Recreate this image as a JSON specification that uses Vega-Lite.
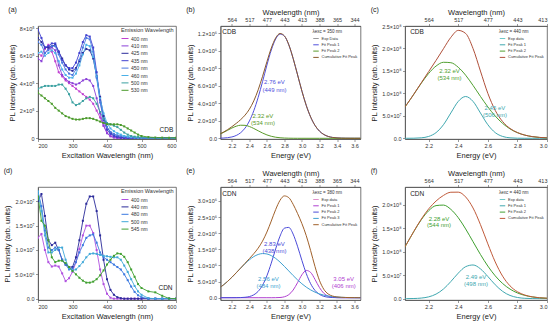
{
"$schema": "https://vega.github.io/schema/vega-lite/v6.json",
"autosize": {"type": "pad"},
"padding": {"left": 3, "top": 5, "right": 2, "bottom": 2},
"config": {
  "font": "Liberation Sans",
  "view": {"stroke": "#555555", "strokeWidth": 0.8},
  "axis": {"grid": false, "labelOverlap": false, "labelFontSize": 5.5, "titleFontSize": 7.5, "titleFontWeight": "normal", "tickSize": 2.5, "tickWidth": 0.6, "domainWidth": 0.8, "domainColor": "#555555", "tickColor": "#555555", "labelColor": "#333333", "titleColor": "#222222", "labelPadding": 1.5, "titlePadding": 3},
  "title": {"fontSize": 7, "fontWeight": "normal", "anchor": "start", "frame": "bounds", "color": "#222222", "offset": 0},
  "legend": {"titleFontWeight": "normal", "titleColor": "#333333", "labelColor": "#333333", "symbolType": "stroke", "symbolStrokeWidth": 1},
  "text": {"font": "Liberation Sans"}
},
"columns": 3,
"spacing": {"row": 48, "column": 44.5},
"bounds": "flush",
"align": "each",
"resolve": {"scale": {"color": "independent"}, "legend": {"color": "independent"}},
"concat": [
{
  "width": 138, "height": 113,
  "title": {"text": "(a)", "dy": -9},
  "encoding": {
    "x": {"field": "w", "type": "quantitative", "scale": {"domain": [200, 600], "nice": false}, "axis": {"values": [200, 300, 400, 500, 600], "labelOverlap": false, "title": "Excitation Wavelength (nm)"}},
    "y": {"field": "v", "type": "quantitative", "scale": {"domain": [-7000, 817000], "nice": false}, "axis": {"values": [0, 200000, 400000, 600000, 800000], "labelOverlap": false, "labelExpr": "datum.value == 0 ? '0' : format(datum.value / 100000, '.0f') + '×10⁵'", "title": "PL Intensity (arb. units)"}}
  },
  "layer": [
    {
      "data": {"values": [
{"w":200,"s":"400 nm","v":6.2e5},{"w":210,"s":"400 nm","v":6.0e5},{"w":220,"s":"400 nm","v":6.5e5},{"w":230,"s":"400 nm","v":6.8e5},{"w":240,"s":"400 nm","v":6.3e5},{"w":250,"s":"400 nm","v":5.6e5},{"w":260,"s":"400 nm","v":4.8e5},{"w":270,"s":"400 nm","v":4.5e5},{"w":280,"s":"400 nm","v":4.2e5},{"w":290,"s":"400 nm","v":4.0e5},{"w":300,"s":"400 nm","v":3.8e5},{"w":310,"s":"400 nm","v":3.6e5},{"w":320,"s":"400 nm","v":3.4e5},{"w":330,"s":"400 nm","v":3.2e5},{"w":340,"s":"400 nm","v":3.0e5},{"w":350,"s":"400 nm","v":2.8e5},{"w":360,"s":"400 nm","v":2.5e5},{"w":370,"s":"400 nm","v":2.0e5},{"w":380,"s":"400 nm","v":1.5e5},{"w":390,"s":"400 nm","v":0.9e5},{"w":400,"s":"400 nm","v":0.4e5},{"w":410,"s":"400 nm","v":0.15e5},{"w":420,"s":"400 nm","v":0.05e5},{"w":430,"s":"400 nm","v":0},{"w":440,"s":"400 nm","v":0},{"w":450,"s":"400 nm","v":0},{"w":460,"s":"400 nm","v":0},{"w":470,"s":"400 nm","v":0},{"w":480,"s":"400 nm","v":0},{"w":490,"s":"400 nm","v":0},{"w":500,"s":"400 nm","v":0},{"w":520,"s":"400 nm","v":0},{"w":540,"s":"400 nm","v":0},{"w":560,"s":"400 nm","v":0},{"w":580,"s":"400 nm","v":0},{"w":600,"s":"400 nm","v":0},
{"w":200,"s":"410 nm","v":5.8e5},{"w":210,"s":"410 nm","v":5.6e5},{"w":220,"s":"410 nm","v":6.2e5},{"w":230,"s":"410 nm","v":6.5e5},{"w":240,"s":"410 nm","v":6.6e5},{"w":250,"s":"410 nm","v":6.4e5},{"w":260,"s":"410 nm","v":5.3e5},{"w":270,"s":"410 nm","v":4.6e5},{"w":280,"s":"410 nm","v":4.3e5},{"w":290,"s":"410 nm","v":4.1e5},{"w":300,"s":"410 nm","v":4.0e5},{"w":310,"s":"410 nm","v":3.9e5},{"w":320,"s":"410 nm","v":4.0e5},{"w":330,"s":"410 nm","v":4.2e5},{"w":340,"s":"410 nm","v":4.3e5},{"w":350,"s":"410 nm","v":4.2e5},{"w":360,"s":"410 nm","v":3.8e5},{"w":370,"s":"410 nm","v":2.9e5},{"w":380,"s":"410 nm","v":1.8e5},{"w":390,"s":"410 nm","v":0.9e5},{"w":400,"s":"410 nm","v":0.35e5},{"w":410,"s":"410 nm","v":0.12e5},{"w":420,"s":"410 nm","v":0.04e5},{"w":430,"s":"410 nm","v":0},{"w":440,"s":"410 nm","v":0},{"w":450,"s":"410 nm","v":0},{"w":460,"s":"410 nm","v":0},{"w":470,"s":"410 nm","v":0},{"w":480,"s":"410 nm","v":0},{"w":490,"s":"410 nm","v":0},{"w":500,"s":"410 nm","v":0},{"w":520,"s":"410 nm","v":0},{"w":540,"s":"410 nm","v":0},{"w":560,"s":"410 nm","v":0},{"w":580,"s":"410 nm","v":0},{"w":600,"s":"410 nm","v":0},
{"w":200,"s":"425 nm","v":7.3e5},{"w":210,"s":"425 nm","v":7.0e5},{"w":220,"s":"425 nm","v":6.6e5},{"w":230,"s":"425 nm","v":6.6e5},{"w":240,"s":"425 nm","v":6.7e5},{"w":250,"s":"425 nm","v":6.8e5},{"w":260,"s":"425 nm","v":6.3e5},{"w":270,"s":"425 nm","v":5.8e5},{"w":280,"s":"425 nm","v":5.3e5},{"w":290,"s":"425 nm","v":5.0e5},{"w":300,"s":"425 nm","v":4.9e5},{"w":310,"s":"425 nm","v":5.1e5},{"w":320,"s":"425 nm","v":5.6e5},{"w":330,"s":"425 nm","v":6.2e5},{"w":340,"s":"425 nm","v":6.5e5},{"w":350,"s":"425 nm","v":6.4e5},{"w":360,"s":"425 nm","v":5.8e5},{"w":370,"s":"425 nm","v":4.5e5},{"w":380,"s":"425 nm","v":3.0e5},{"w":390,"s":"425 nm","v":1.6e5},{"w":400,"s":"425 nm","v":0.8e5},{"w":410,"s":"425 nm","v":0.4e5},{"w":420,"s":"425 nm","v":0.2e5},{"w":430,"s":"425 nm","v":0.1e5},{"w":440,"s":"425 nm","v":0.05e5},{"w":450,"s":"425 nm","v":0.03e5},{"w":460,"s":"425 nm","v":0.02e5},{"w":470,"s":"425 nm","v":0.01e5},{"w":480,"s":"425 nm","v":0},{"w":490,"s":"425 nm","v":0},{"w":500,"s":"425 nm","v":0},{"w":520,"s":"425 nm","v":0},{"w":540,"s":"425 nm","v":0},{"w":560,"s":"425 nm","v":0},{"w":580,"s":"425 nm","v":0},{"w":600,"s":"425 nm","v":0},
{"w":200,"s":"435 nm","v":7.9e5},{"w":210,"s":"435 nm","v":7.3e5},{"w":220,"s":"435 nm","v":6.6e5},{"w":230,"s":"435 nm","v":6.7e5},{"w":240,"s":"435 nm","v":6.9e5},{"w":250,"s":"435 nm","v":6.9e5},{"w":260,"s":"435 nm","v":6.3e5},{"w":270,"s":"435 nm","v":5.7e5},{"w":280,"s":"435 nm","v":5.3e5},{"w":290,"s":"435 nm","v":5.1e5},{"w":300,"s":"435 nm","v":5.1e5},{"w":310,"s":"435 nm","v":5.5e5},{"w":320,"s":"435 nm","v":6.2e5},{"w":330,"s":"435 nm","v":7.0e5},{"w":340,"s":"435 nm","v":7.5e5},{"w":350,"s":"435 nm","v":7.4e5},{"w":360,"s":"435 nm","v":6.6e5},{"w":370,"s":"435 nm","v":4.8e5},{"w":380,"s":"435 nm","v":2.8e5},{"w":390,"s":"435 nm","v":1.3e5},{"w":400,"s":"435 nm","v":0.6e5},{"w":410,"s":"435 nm","v":0.3e5},{"w":420,"s":"435 nm","v":0.15e5},{"w":430,"s":"435 nm","v":0.08e5},{"w":440,"s":"435 nm","v":0.04e5},{"w":450,"s":"435 nm","v":0.02e5},{"w":460,"s":"435 nm","v":0.01e5},{"w":470,"s":"435 nm","v":0},{"w":480,"s":"435 nm","v":0},{"w":490,"s":"435 nm","v":0},{"w":500,"s":"435 nm","v":0},{"w":520,"s":"435 nm","v":0},{"w":540,"s":"435 nm","v":0},{"w":560,"s":"435 nm","v":0},{"w":580,"s":"435 nm","v":0},{"w":600,"s":"435 nm","v":0},
{"w":200,"s":"450 nm","v":7.0e5},{"w":210,"s":"450 nm","v":6.8e5},{"w":220,"s":"450 nm","v":6.2e5},{"w":230,"s":"450 nm","v":6.4e5},{"w":240,"s":"450 nm","v":6.7e5},{"w":250,"s":"450 nm","v":6.7e5},{"w":260,"s":"450 nm","v":6.1e5},{"w":270,"s":"450 nm","v":5.5e5},{"w":280,"s":"450 nm","v":5.0e5},{"w":290,"s":"450 nm","v":4.7e5},{"w":300,"s":"450 nm","v":4.6e5},{"w":310,"s":"450 nm","v":5.0e5},{"w":320,"s":"450 nm","v":5.7e5},{"w":330,"s":"450 nm","v":6.6e5},{"w":340,"s":"450 nm","v":7.3e5},{"w":350,"s":"450 nm","v":7.2e5},{"w":360,"s":"450 nm","v":6.3e5},{"w":370,"s":"450 nm","v":4.4e5},{"w":380,"s":"450 nm","v":2.6e5},{"w":390,"s":"450 nm","v":1.4e5},{"w":400,"s":"450 nm","v":0.8e5},{"w":410,"s":"450 nm","v":0.45e5},{"w":420,"s":"450 nm","v":0.3e5},{"w":430,"s":"450 nm","v":0.2e5},{"w":440,"s":"450 nm","v":0.15e5},{"w":450,"s":"450 nm","v":0.1e5},{"w":460,"s":"450 nm","v":0.06e5},{"w":470,"s":"450 nm","v":0.04e5},{"w":480,"s":"450 nm","v":0.02e5},{"w":490,"s":"450 nm","v":0.01e5},{"w":500,"s":"450 nm","v":0},{"w":520,"s":"450 nm","v":0},{"w":540,"s":"450 nm","v":0},{"w":560,"s":"450 nm","v":0},{"w":580,"s":"450 nm","v":0},{"w":600,"s":"450 nm","v":0},
{"w":200,"s":"460 nm","v":6.2e5},{"w":210,"s":"460 nm","v":6.3e5},{"w":220,"s":"460 nm","v":6.0e5},{"w":230,"s":"460 nm","v":6.2e5},{"w":240,"s":"460 nm","v":6.4e5},{"w":250,"s":"460 nm","v":6.2e5},{"w":260,"s":"460 nm","v":5.6e5},{"w":270,"s":"460 nm","v":5.0e5},{"w":280,"s":"460 nm","v":4.6e5},{"w":290,"s":"460 nm","v":4.4e5},{"w":300,"s":"460 nm","v":4.4e5},{"w":310,"s":"460 nm","v":4.7e5},{"w":320,"s":"460 nm","v":5.3e5},{"w":330,"s":"460 nm","v":6.1e5},{"w":340,"s":"460 nm","v":6.8e5},{"w":350,"s":"460 nm","v":6.7e5},{"w":360,"s":"460 nm","v":5.9e5},{"w":370,"s":"460 nm","v":4.5e5},{"w":380,"s":"460 nm","v":2.9e5},{"w":390,"s":"460 nm","v":1.8e5},{"w":400,"s":"460 nm","v":1.1e5},{"w":410,"s":"460 nm","v":0.7e5},{"w":420,"s":"460 nm","v":0.5e5},{"w":430,"s":"460 nm","v":0.35e5},{"w":440,"s":"460 nm","v":0.25e5},{"w":450,"s":"460 nm","v":0.15e5},{"w":460,"s":"460 nm","v":0.1e5},{"w":470,"s":"460 nm","v":0.07e5},{"w":480,"s":"460 nm","v":0.04e5},{"w":490,"s":"460 nm","v":0.03e5},{"w":500,"s":"460 nm","v":0.02e5},{"w":520,"s":"460 nm","v":0},{"w":540,"s":"460 nm","v":0},{"w":560,"s":"460 nm","v":0},{"w":580,"s":"460 nm","v":0},{"w":600,"s":"460 nm","v":0},
{"w":200,"s":"500 nm","v":3.6e5},{"w":210,"s":"500 nm","v":3.7e5},{"w":220,"s":"500 nm","v":3.8e5},{"w":230,"s":"500 nm","v":3.8e5},{"w":240,"s":"500 nm","v":3.8e5},{"w":250,"s":"500 nm","v":3.8e5},{"w":260,"s":"500 nm","v":3.9e5},{"w":270,"s":"500 nm","v":3.9e5},{"w":280,"s":"500 nm","v":3.6e5},{"w":290,"s":"500 nm","v":3.2e5},{"w":300,"s":"500 nm","v":2.6e5},{"w":310,"s":"500 nm","v":2.4e5},{"w":320,"s":"500 nm","v":2.5e5},{"w":330,"s":"500 nm","v":2.7e5},{"w":340,"s":"500 nm","v":2.9e5},{"w":350,"s":"500 nm","v":3.0e5},{"w":360,"s":"500 nm","v":2.9e5},{"w":370,"s":"500 nm","v":2.5e5},{"w":380,"s":"500 nm","v":1.9e5},{"w":390,"s":"500 nm","v":1.4e5},{"w":400,"s":"500 nm","v":1.1e5},{"w":410,"s":"500 nm","v":1.0e5},{"w":420,"s":"500 nm","v":0.9e5},{"w":430,"s":"500 nm","v":0.8e5},{"w":440,"s":"500 nm","v":0.6e5},{"w":450,"s":"500 nm","v":0.4e5},{"w":460,"s":"500 nm","v":0.25e5},{"w":470,"s":"500 nm","v":0.15e5},{"w":480,"s":"500 nm","v":0.1e5},{"w":490,"s":"500 nm","v":0.07e5},{"w":500,"s":"500 nm","v":0.05e5},{"w":520,"s":"500 nm","v":0.02e5},{"w":540,"s":"500 nm","v":0},{"w":560,"s":"500 nm","v":0},{"w":580,"s":"500 nm","v":0},{"w":600,"s":"500 nm","v":0},
{"w":200,"s":"530 nm","v":3.3e5},{"w":210,"s":"530 nm","v":3.1e5},{"w":220,"s":"530 nm","v":2.9e5},{"w":230,"s":"530 nm","v":2.7e5},{"w":240,"s":"530 nm","v":2.5e5},{"w":250,"s":"530 nm","v":2.2e5},{"w":260,"s":"530 nm","v":2.0e5},{"w":270,"s":"530 nm","v":1.8e5},{"w":280,"s":"530 nm","v":1.6e5},{"w":290,"s":"530 nm","v":1.5e5},{"w":300,"s":"530 nm","v":1.4e5},{"w":310,"s":"530 nm","v":1.35e5},{"w":320,"s":"530 nm","v":1.35e5},{"w":330,"s":"530 nm","v":1.4e5},{"w":340,"s":"530 nm","v":1.45e5},{"w":350,"s":"530 nm","v":1.45e5},{"w":360,"s":"530 nm","v":1.4e5},{"w":370,"s":"530 nm","v":1.3e5},{"w":380,"s":"530 nm","v":1.2e5},{"w":390,"s":"530 nm","v":1.1e5},{"w":400,"s":"530 nm","v":1.0e5},{"w":410,"s":"530 nm","v":1.0e5},{"w":420,"s":"530 nm","v":1.0e5},{"w":430,"s":"530 nm","v":1.0e5},{"w":440,"s":"530 nm","v":0.95e5},{"w":450,"s":"530 nm","v":0.85e5},{"w":460,"s":"530 nm","v":0.7e5},{"w":470,"s":"530 nm","v":0.55e5},{"w":480,"s":"530 nm","v":0.4e5},{"w":490,"s":"530 nm","v":0.25e5},{"w":500,"s":"530 nm","v":0.15e5},{"w":520,"s":"530 nm","v":0.07e5},{"w":540,"s":"530 nm","v":0.04e5},{"w":560,"s":"530 nm","v":0.03e5},{"w":580,"s":"530 nm","v":0.02e5},{"w":600,"s":"530 nm","v":0.02e5}
      ]},
      "mark": {"type": "line", "strokeWidth": 0.9, "clip": true, "point": {"filled": true, "size": 4, "shape": "square"}},
      "encoding": {
        "color": {"field": "s", "type": "nominal", "scale": {"domain": ["400 nm", "410 nm", "425 nm", "435 nm", "450 nm", "460 nm", "500 nm", "530 nm"], "range": ["#c040d0", "#8a40d8", "#2c2c9c", "#4040d0", "#4a78e0", "#4ab0e8", "#3aa0a0", "#4a9a2a"]}, "legend": {"title": "Emission Wavelength", "orient": "top-right", "offset": 1, "titleFontSize": 5.5, "labelFontSize": 5, "symbolSize": 49, "rowPadding": 0.4, "titlePadding": 1, "padding": 1, "labelOffset": 2}}
      }
    },
    {
      "data": {"values": [{"w": 592, "v": 55000, "t": "CDB"}]},
      "mark": {"type": "text", "fontSize": 6.5, "align": "right", "color": "#222222"},
      "encoding": {"text": {"field": "t"}}
    }
  ]
},
{
  "width": 140, "height": 113,
  "title": {"text": "(b)", "dy": 8},
  "encoding": {
    "y": {"field": "v", "type": "quantitative", "scale": {"domain": [-8000, 1280000], "nice": false}, "axis": {"orient": "left", "values": [0, 200000, 400000, 600000, 800000, 1000000, 1200000], "labelOverlap": false, "labelExpr": "datum.value == 0 ? '0.0' : format(datum.value / pow(10, floor(log(datum.value) / LN10 + 0.000001)), '.1f') + '×10' + ['⁰','¹','²','³','⁴','⁵','⁶','⁷','⁸','⁹'][floor(log(datum.value) / LN10 + 0.000001)]", "title": "PL Intensity (arb. units)"}}
  },
  "layer": [
    {
      "data": {"values": [
{"e":2.05,"s":"Fit Peak 1","v":1110},{"e":2.10,"s":"Fit Peak 1","v":2860},{"e":2.15,"s":"Fit Peak 1","v":6880},{"e":2.20,"s":"Fit Peak 1","v":15470},{"e":2.25,"s":"Fit Peak 1","v":32450},{"e":2.30,"s":"Fit Peak 1","v":63430},{"e":2.35,"s":"Fit Peak 1","v":116000},{"e":2.40,"s":"Fit Peak 1","v":197600},{"e":2.45,"s":"Fit Peak 1","v":314400},{"e":2.50,"s":"Fit Peak 1","v":466600},{"e":2.55,"s":"Fit Peak 1","v":646000},{"e":2.60,"s":"Fit Peak 1","v":834700},{"e":2.65,"s":"Fit Peak 1","v":1006400},{"e":2.70,"s":"Fit Peak 1","v":1132200},{"e":2.75,"s":"Fit Peak 1","v":1188300},{"e":2.80,"s":"Fit Peak 1","v":1163800},{"e":2.85,"s":"Fit Peak 1","v":1063800},{"e":2.90,"s":"Fit Peak 1","v":907000},{"e":2.95,"s":"Fit Peak 1","v":721800},{"e":3.00,"s":"Fit Peak 1","v":535800},{"e":3.05,"s":"Fit Peak 1","v":371300},{"e":3.10,"s":"Fit Peak 1","v":240000},{"e":3.15,"s":"Fit Peak 1","v":144700},{"e":3.20,"s":"Fit Peak 1","v":81500},{"e":3.25,"s":"Fit Peak 1","v":42800},{"e":3.30,"s":"Fit Peak 1","v":20960},{"e":3.35,"s":"Fit Peak 1","v":9590},{"e":3.40,"s":"Fit Peak 1","v":4090},{"e":3.45,"s":"Fit Peak 1","v":1620},{"e":3.50,"s":"Fit Peak 1","v":605},{"e":3.55,"s":"Fit Peak 1","v":210},{"e":3.60,"s":"Fit Peak 1","v":67},{"e":3.65,"s":"Fit Peak 1","v":21},{"e":3.70,"s":"Fit Peak 1","v":6},
{"e":2.05,"s":"Fit Peak 2","v":42500},{"e":2.10,"s":"Fit Peak 2","v":64900},{"e":2.15,"s":"Fit Peak 2","v":91000},{"e":2.20,"s":"Fit Peak 2","v":116900},{"e":2.25,"s":"Fit Peak 2","v":137800},{"e":2.30,"s":"Fit Peak 2","v":149000},{"e":2.35,"s":"Fit Peak 2","v":147700},{"e":2.40,"s":"Fit Peak 2","v":134300},{"e":2.45,"s":"Fit Peak 2","v":112000},{"e":2.50,"s":"Fit Peak 2","v":85600},{"e":2.55,"s":"Fit Peak 2","v":60100},{"e":2.60,"s":"Fit Peak 2","v":38600},{"e":2.65,"s":"Fit Peak 2","v":22800},{"e":2.70,"s":"Fit Peak 2","v":12300},{"e":2.75,"s":"Fit Peak 2","v":6100},{"e":2.80,"s":"Fit Peak 2","v":2790},{"e":2.85,"s":"Fit Peak 2","v":1160},{"e":2.90,"s":"Fit Peak 2","v":450},{"e":2.95,"s":"Fit Peak 2","v":160},{"e":3.00,"s":"Fit Peak 2","v":50},{"e":3.20,"s":"Fit Peak 2","v":0},{"e":3.45,"s":"Fit Peak 2","v":0},{"e":3.70,"s":"Fit Peak 2","v":0},
{"e":2.05,"s":"Cumulative Fit Peak","v":43610},{"e":2.10,"s":"Cumulative Fit Peak","v":67760},{"e":2.15,"s":"Cumulative Fit Peak","v":97880},{"e":2.20,"s":"Cumulative Fit Peak","v":132370},{"e":2.25,"s":"Cumulative Fit Peak","v":170250},{"e":2.30,"s":"Cumulative Fit Peak","v":212430},{"e":2.35,"s":"Cumulative Fit Peak","v":263700},{"e":2.40,"s":"Cumulative Fit Peak","v":331900},{"e":2.45,"s":"Cumulative Fit Peak","v":426400},{"e":2.50,"s":"Cumulative Fit Peak","v":552200},{"e":2.55,"s":"Cumulative Fit Peak","v":706100},{"e":2.60,"s":"Cumulative Fit Peak","v":873300},{"e":2.65,"s":"Cumulative Fit Peak","v":1029200},{"e":2.70,"s":"Cumulative Fit Peak","v":1144500},{"e":2.75,"s":"Cumulative Fit Peak","v":1194400},{"e":2.80,"s":"Cumulative Fit Peak","v":1166600},{"e":2.85,"s":"Cumulative Fit Peak","v":1065000},{"e":2.90,"s":"Cumulative Fit Peak","v":907500},{"e":2.95,"s":"Cumulative Fit Peak","v":722000},{"e":3.00,"s":"Cumulative Fit Peak","v":535900},{"e":3.05,"s":"Cumulative Fit Peak","v":371300},{"e":3.10,"s":"Cumulative Fit Peak","v":240000},{"e":3.15,"s":"Cumulative Fit Peak","v":144700},{"e":3.20,"s":"Cumulative Fit Peak","v":81500},{"e":3.25,"s":"Cumulative Fit Peak","v":42800},{"e":3.30,"s":"Cumulative Fit Peak","v":20960},{"e":3.35,"s":"Cumulative Fit Peak","v":9590},{"e":3.40,"s":"Cumulative Fit Peak","v":4090},{"e":3.45,"s":"Cumulative Fit Peak","v":1620},{"e":3.50,"s":"Cumulative Fit Peak","v":605},{"e":3.55,"s":"Cumulative Fit Peak","v":210},{"e":3.60,"s":"Cumulative Fit Peak","v":67},{"e":3.65,"s":"Cumulative Fit Peak","v":21},{"e":3.70,"s":"Cumulative Fit Peak","v":6}
      ]},
      "mark": {"type": "line", "strokeWidth": 1, "clip": true, "interpolate": "monotone"},
      "encoding": {
        "x": {"field": "e", "type": "quantitative", "scale": {"domain": [2.07, 3.668], "nice": false, "zero": false}, "axis": {"orient": "bottom", "values": [2.2, 2.4, 2.6, 2.8, 3.0, 3.2, 3.4, 3.6], "labelOverlap": false, "format": ".1f", "title": "Energy (eV)"}},
        "color": {"field": "s", "type": "nominal", "scale": {"domain": ["Exp Data", "Fit Peak 1", "Fit Peak 2", "Cumulative Fit Peak"], "range": ["#9a9a9a", "#5050dc", "#5a9a2a", "#8b5a2b"]}, "legend": {"title": "λexc = 350 nm", "orient": "top-right", "offset": 2, "titleFontSize": 4.5, "labelFontSize": 4, "symbolSize": 30, "rowPadding": 0.3, "titlePadding": 1.5, "padding": 1, "labelOffset": 2}}
      }
    },
    {
      "data": {"values": [
{"e":2.686,"v":638000,"t":"2.76 eV","s":"Fit Peak 1"},{"e":2.686,"v":554000,"t":"(449 nm)","s":"Fit Peak 1"},{"e":2.554,"v":258000,"t":"2.32 eV","s":"Fit Peak 2"},{"e":2.554,"v":174000,"t":"(534 nm)","s":"Fit Peak 2"}
      ]},
      "mark": {"type": "text", "fontSize": 6},
      "encoding": {
        "x": {"field": "e", "type": "quantitative", "scale": {"domain": [2.07, 3.668], "nice": false, "zero": false}, "axis": {"orient": "top", "values": [2.2, 2.4, 2.6, 2.8, 3.0, 3.2, 3.4, 3.6], "labelOverlap": false, "labelExpr": "format(1240 / datum.value, '.0f')", "title": "Wavelength (nm)", "titlePadding": 0.5}},
        "text": {"field": "t"},
        "color": {"field": "s", "type": "nominal", "legend": null}
      }
    },
    {
      "data": {"values": [{"e": 2.09, "v": 1210000, "t": "CDB"}]},
      "mark": {"type": "text", "fontSize": 6.5, "align": "left", "color": "#222222"},
      "encoding": {
        "x": {"field": "e", "type": "quantitative", "scale": {"domain": [2.07, 3.668], "nice": false, "zero": false}, "axis": null},
        "text": {"field": "t"}
      }
    }
  ],
  "resolve": {"axis": {"x": "independent"}}
},
{
  "width": 142, "height": 113,
  "title": {"text": "(c)", "dy": 8},
  "encoding": {
    "y": {"field": "v", "type": "quantitative", "scale": {"domain": [-1.6e6, 2.5e8], "nice": false}, "axis": {"orient": "left", "values": [0, 5e7, 1e8, 1.5e8, 2e8, 2.5e8], "labelOverlap": false, "labelExpr": "datum.value == 0 ? '0.0' : format(datum.value / pow(10, floor(log(datum.value) / LN10 + 0.000001)), '.1f') + '×10' + ['⁰','¹','²','³','⁴','⁵','⁶','⁷','⁸','⁹'][floor(log(datum.value) / LN10 + 0.000001)]", "title": "PL Intensity (arb. units)"}}
  },
  "layer": [
    {
      "data": {"values": [
{"e":2.00,"s":"Fit Peak 1","v":0},{"e":2.05,"s":"Fit Peak 1","v":31000},{"e":2.10,"s":"Fit Peak 1","v":204000},{"e":2.15,"s":"Fit Peak 1","v":1.03e6},{"e":2.20,"s":"Fit Peak 1","v":4.08e6},{"e":2.25,"s":"Fit Peak 1","v":1.259e7},{"e":2.30,"s":"Fit Peak 1","v":3.02e7},{"e":2.35,"s":"Fit Peak 1","v":5.64e7},{"e":2.40,"s":"Fit Peak 1","v":8.21e7},{"e":2.45,"s":"Fit Peak 1","v":9.30e7},{"e":2.50,"s":"Fit Peak 1","v":8.21e7},{"e":2.55,"s":"Fit Peak 1","v":5.64e7},{"e":2.60,"s":"Fit Peak 1","v":3.02e7},{"e":2.65,"s":"Fit Peak 1","v":1.259e7},{"e":2.70,"s":"Fit Peak 1","v":4.08e6},{"e":2.75,"s":"Fit Peak 1","v":1.03e6},{"e":2.80,"s":"Fit Peak 1","v":204000},{"e":2.85,"s":"Fit Peak 1","v":31000},{"e":2.90,"s":"Fit Peak 1","v":3500},{"e":2.95,"s":"Fit Peak 1","v":0},{"e":3.00,"s":"Fit Peak 1","v":0},
{"e":2.00,"s":"Fit Peak 2","v":5.32e7},{"e":2.05,"s":"Fit Peak 2","v":7.44e7},{"e":2.10,"s":"Fit Peak 2","v":9.82e7},{"e":2.15,"s":"Fit Peak 2","v":1.225e8},{"e":2.20,"s":"Fit Peak 2","v":1.444e8},{"e":2.25,"s":"Fit Peak 2","v":1.608e8},{"e":2.30,"s":"Fit Peak 2","v":1.692e8},{"e":2.35,"s":"Fit Peak 2","v":1.683e8},{"e":2.40,"s":"Fit Peak 2","v":1.581e8},{"e":2.45,"s":"Fit Peak 2","v":1.404e8},{"e":2.50,"s":"Fit Peak 2","v":1.177e8},{"e":2.55,"s":"Fit Peak 2","v":9.33e7},{"e":2.60,"s":"Fit Peak 2","v":6.99e7},{"e":2.65,"s":"Fit Peak 2","v":4.95e7},{"e":2.70,"s":"Fit Peak 2","v":3.31e7},{"e":2.75,"s":"Fit Peak 2","v":2.09e7},{"e":2.80,"s":"Fit Peak 2","v":1.25e7},{"e":2.85,"s":"Fit Peak 2","v":7.04e6},{"e":2.90,"s":"Fit Peak 2","v":3.75e6},{"e":2.95,"s":"Fit Peak 2","v":1.89e6},{"e":3.00,"s":"Fit Peak 2","v":9.0e5},
{"e":2.00,"s":"Cumulative Fit Peak","v":5.32e7},{"e":2.05,"s":"Cumulative Fit Peak","v":7.443e7},{"e":2.10,"s":"Cumulative Fit Peak","v":9.84e7},{"e":2.15,"s":"Cumulative Fit Peak","v":1.235e8},{"e":2.20,"s":"Cumulative Fit Peak","v":1.485e8},{"e":2.25,"s":"Cumulative Fit Peak","v":1.734e8},{"e":2.30,"s":"Cumulative Fit Peak","v":1.994e8},{"e":2.35,"s":"Cumulative Fit Peak","v":2.247e8},{"e":2.40,"s":"Cumulative Fit Peak","v":2.402e8},{"e":2.45,"s":"Cumulative Fit Peak","v":2.334e8},{"e":2.50,"s":"Cumulative Fit Peak","v":1.998e8},{"e":2.55,"s":"Cumulative Fit Peak","v":1.497e8},{"e":2.60,"s":"Cumulative Fit Peak","v":1.001e8},{"e":2.65,"s":"Cumulative Fit Peak","v":6.21e7},{"e":2.70,"s":"Cumulative Fit Peak","v":3.72e7},{"e":2.75,"s":"Cumulative Fit Peak","v":2.19e7},{"e":2.80,"s":"Cumulative Fit Peak","v":1.27e7},{"e":2.85,"s":"Cumulative Fit Peak","v":7.07e6},{"e":2.90,"s":"Cumulative Fit Peak","v":3.75e6},{"e":2.95,"s":"Cumulative Fit Peak","v":1.89e6},{"e":3.00,"s":"Cumulative Fit Peak","v":9.0e5}
      ]},
      "mark": {"type": "line", "strokeWidth": 1, "clip": true, "interpolate": "monotone"},
      "encoding": {
        "x": {"field": "e", "type": "quantitative", "scale": {"domain": [2.04, 3.0], "nice": false, "zero": false}, "axis": {"orient": "bottom", "values": [2.2, 2.4, 2.6, 2.8, 3.0], "labelOverlap": false, "format": ".1f", "title": "Energy (eV)"}},
        "color": {"field": "s", "type": "nominal", "scale": {"domain": ["Exp data", "Fit Peak 1", "Fit Peak 2", "Cumulative Fit Peak"], "range": ["#70c8c8", "#40a8b0", "#50a030", "#b0503a"]}, "legend": {"title": "λexc = 440 nm", "orient": "top-right", "offset": 2, "titleFontSize": 4.5, "labelFontSize": 4, "symbolSize": 30, "rowPadding": 0.3, "titlePadding": 1.5, "padding": 1, "labelOffset": 2}}
      }
    },
    {
      "data": {"values": [
{"e":2.341,"v":1.505e8,"t":"2.32 eV","s":"Fit Peak 2"},{"e":2.341,"v":1.342e8,"t":"(534 nm)","s":"Fit Peak 2"},{"e":2.648,"v":6.74e7,"t":"2.45 eV","s":"Fit Peak 1"},{"e":2.648,"v":5.19e7,"t":"(506 nm)","s":"Fit Peak 1"}
      ]},
      "mark": {"type": "text", "fontSize": 6},
      "encoding": {
        "x": {"field": "e", "type": "quantitative", "scale": {"domain": [2.04, 3.0], "nice": false, "zero": false}, "axis": {"orient": "top", "values": [2.2, 2.4, 2.6, 2.8, 3.0], "labelOverlap": false, "labelExpr": "format(1240 / datum.value, '.0f')", "title": "Wavelength (nm)", "titlePadding": 0.5}},
        "text": {"field": "t"},
        "color": {"field": "s", "type": "nominal", "legend": null}
      }
    },
    {
      "data": {"values": [{"e": 2.075, "v": 2.36e8, "t": "CDB"}]},
      "mark": {"type": "text", "fontSize": 6.5, "align": "left", "color": "#222222"},
      "encoding": {
        "x": {"field": "e", "type": "quantitative", "scale": {"domain": [2.04, 3.0], "nice": false, "zero": false}, "axis": null},
        "text": {"field": "t"}
      }
    }
  ],
  "resolve": {"axis": {"x": "independent"}}
},
{
  "width": 138, "height": 113,
  "title": {"text": "(d)", "dy": -9},
  "encoding": {
    "x": {"field": "w", "type": "quantitative", "scale": {"domain": [200, 600], "nice": false}, "axis": {"values": [200, 300, 400, 500, 600], "labelOverlap": false, "title": "Excitation Wavelength (nm)"}},
    "y": {"field": "v", "type": "quantitative", "scale": {"domain": [-270000, 22940000], "nice": false}, "axis": {"values": [0, 5e6, 1e7, 1.5e7, 2e7], "labelOverlap": false, "labelExpr": "datum.value == 0 ? '0.0' : format(datum.value / pow(10, floor(log(datum.value) / LN10 + 0.000001)), '.1f') + '×10' + ['⁰','¹','²','³','⁴','⁵','⁶','⁷','⁸','⁹'][floor(log(datum.value) / LN10 + 0.000001)]", "title": "PL Intensity (arb. units)"}}
  },
  "layer": [
    {
      "data": {"values": [
{"w":200,"s":"400 nm","v":12.5e6},{"w":210,"s":"400 nm","v":13.3e6},{"w":220,"s":"400 nm","v":10e6},{"w":230,"s":"400 nm","v":7.5e6},{"w":240,"s":"400 nm","v":6.6e6},{"w":250,"s":"400 nm","v":6.8e6},{"w":260,"s":"400 nm","v":6.6e6},{"w":270,"s":"400 nm","v":5.2e6},{"w":280,"s":"400 nm","v":3.6e6},{"w":290,"s":"400 nm","v":4.2e6},{"w":300,"s":"400 nm","v":5.5e6},{"w":310,"s":"400 nm","v":7.5e6},{"w":320,"s":"400 nm","v":10.2e6},{"w":330,"s":"400 nm","v":13e6},{"w":340,"s":"400 nm","v":15e6},{"w":350,"s":"400 nm","v":15e6},{"w":360,"s":"400 nm","v":13.5e6},{"w":370,"s":"400 nm","v":10e6},{"w":380,"s":"400 nm","v":6e6},{"w":390,"s":"400 nm","v":3e6},{"w":400,"s":"400 nm","v":1e6},{"w":410,"s":"400 nm","v":0.2e6},{"w":420,"s":"400 nm","v":0},{"w":430,"s":"400 nm","v":0},{"w":440,"s":"400 nm","v":0},{"w":450,"s":"400 nm","v":0},{"w":460,"s":"400 nm","v":0},{"w":470,"s":"400 nm","v":0},{"w":480,"s":"400 nm","v":0},{"w":490,"s":"400 nm","v":0},{"w":500,"s":"400 nm","v":0},{"w":520,"s":"400 nm","v":0},{"w":540,"s":"400 nm","v":0},{"w":560,"s":"400 nm","v":0},{"w":580,"s":"400 nm","v":0},{"w":600,"s":"400 nm","v":0},
{"w":200,"s":"440 nm","v":20e6},{"w":210,"s":"440 nm","v":21.5e6},{"w":220,"s":"440 nm","v":17e6},{"w":230,"s":"440 nm","v":12e6},{"w":240,"s":"440 nm","v":11e6},{"w":250,"s":"440 nm","v":11.5e6},{"w":260,"s":"440 nm","v":10e6},{"w":270,"s":"440 nm","v":8e6},{"w":280,"s":"440 nm","v":7e6},{"w":290,"s":"440 nm","v":6.5e6},{"w":300,"s":"440 nm","v":6.5e6},{"w":310,"s":"440 nm","v":8.5e6},{"w":320,"s":"440 nm","v":12e6},{"w":330,"s":"440 nm","v":16e6},{"w":340,"s":"440 nm","v":19.5e6},{"w":350,"s":"440 nm","v":21e6},{"w":360,"s":"440 nm","v":21e6},{"w":370,"s":"440 nm","v":18e6},{"w":380,"s":"440 nm","v":13e6},{"w":390,"s":"440 nm","v":8e6},{"w":400,"s":"440 nm","v":4e6},{"w":410,"s":"440 nm","v":1.8e6},{"w":420,"s":"440 nm","v":0.8e6},{"w":430,"s":"440 nm","v":0.3e6},{"w":440,"s":"440 nm","v":0.1e6},{"w":450,"s":"440 nm","v":0},{"w":460,"s":"440 nm","v":0},{"w":470,"s":"440 nm","v":0},{"w":480,"s":"440 nm","v":0},{"w":490,"s":"440 nm","v":0},{"w":500,"s":"440 nm","v":0},{"w":520,"s":"440 nm","v":0},{"w":540,"s":"440 nm","v":0},{"w":560,"s":"440 nm","v":0},{"w":580,"s":"440 nm","v":0},{"w":600,"s":"440 nm","v":0},
{"w":200,"s":"480 nm","v":22e6},{"w":210,"s":"480 nm","v":19e6},{"w":220,"s":"480 nm","v":14e6},{"w":230,"s":"480 nm","v":10.5e6},{"w":240,"s":"480 nm","v":10e6},{"w":250,"s":"480 nm","v":10.5e6},{"w":260,"s":"480 nm","v":10e6},{"w":270,"s":"480 nm","v":8e6},{"w":280,"s":"480 nm","v":7e6},{"w":290,"s":"480 nm","v":6e6},{"w":300,"s":"480 nm","v":6.2e6},{"w":310,"s":"480 nm","v":7.5e6},{"w":320,"s":"480 nm","v":9.5e6},{"w":330,"s":"480 nm","v":11e6},{"w":340,"s":"480 nm","v":12.5e6},{"w":350,"s":"480 nm","v":13e6},{"w":360,"s":"480 nm","v":13.2e6},{"w":370,"s":"480 nm","v":11.5e6},{"w":380,"s":"480 nm","v":9.5e6},{"w":390,"s":"480 nm","v":8.5e6},{"w":400,"s":"480 nm","v":8e6},{"w":410,"s":"480 nm","v":7.5e6},{"w":420,"s":"480 nm","v":7e6},{"w":430,"s":"480 nm","v":6.5e6},{"w":440,"s":"480 nm","v":6e6},{"w":450,"s":"480 nm","v":5e6},{"w":460,"s":"480 nm","v":3.8e6},{"w":470,"s":"480 nm","v":2.5e6},{"w":480,"s":"480 nm","v":1.4e6},{"w":490,"s":"480 nm","v":0.7e6},{"w":500,"s":"480 nm","v":0.3e6},{"w":520,"s":"480 nm","v":0},{"w":540,"s":"480 nm","v":0},{"w":560,"s":"480 nm","v":0},{"w":580,"s":"480 nm","v":0},{"w":600,"s":"480 nm","v":0},
{"w":200,"s":"500 nm","v":22e6},{"w":210,"s":"500 nm","v":18e6},{"w":220,"s":"500 nm","v":13e6},{"w":230,"s":"500 nm","v":9.5e6},{"w":240,"s":"500 nm","v":9.5e6},{"w":250,"s":"500 nm","v":10e6},{"w":260,"s":"500 nm","v":10.5e6},{"w":270,"s":"500 nm","v":10.5e6},{"w":280,"s":"500 nm","v":8e6},{"w":290,"s":"500 nm","v":6.2e6},{"w":300,"s":"500 nm","v":5.8e6},{"w":310,"s":"500 nm","v":6e6},{"w":320,"s":"500 nm","v":6.7e6},{"w":330,"s":"500 nm","v":7.5e6},{"w":340,"s":"500 nm","v":8.5e6},{"w":350,"s":"500 nm","v":9.2e6},{"w":360,"s":"500 nm","v":9.3e6},{"w":370,"s":"500 nm","v":9.2e6},{"w":380,"s":"500 nm","v":9e6},{"w":390,"s":"500 nm","v":8.8e6},{"w":400,"s":"500 nm","v":8.7e6},{"w":410,"s":"500 nm","v":8.6e6},{"w":420,"s":"500 nm","v":8.5e6},{"w":430,"s":"500 nm","v":8.5e6},{"w":440,"s":"500 nm","v":8e6},{"w":450,"s":"500 nm","v":6.8e6},{"w":460,"s":"500 nm","v":5.5e6},{"w":470,"s":"500 nm","v":4e6},{"w":480,"s":"500 nm","v":2.6e6},{"w":490,"s":"500 nm","v":1.5e6},{"w":500,"s":"500 nm","v":0.8e6},{"w":520,"s":"500 nm","v":0.1e6},{"w":540,"s":"500 nm","v":0},{"w":560,"s":"500 nm","v":0},{"w":580,"s":"500 nm","v":0},{"w":600,"s":"500 nm","v":0},
{"w":200,"s":"545 nm","v":21e6},{"w":210,"s":"545 nm","v":16e6},{"w":220,"s":"545 nm","v":15e6},{"w":230,"s":"545 nm","v":12e6},{"w":240,"s":"545 nm","v":8.5e6},{"w":250,"s":"545 nm","v":7.5e6},{"w":260,"s":"545 nm","v":7.8e6},{"w":270,"s":"545 nm","v":7.8e6},{"w":280,"s":"545 nm","v":7.3e6},{"w":290,"s":"545 nm","v":6.5e6},{"w":300,"s":"545 nm","v":5.7e6},{"w":310,"s":"545 nm","v":5e6},{"w":320,"s":"545 nm","v":4.3e6},{"w":330,"s":"545 nm","v":3.7e6},{"w":340,"s":"545 nm","v":3.3e6},{"w":350,"s":"545 nm","v":3.3e6},{"w":360,"s":"545 nm","v":3.5e6},{"w":370,"s":"545 nm","v":4e6},{"w":380,"s":"545 nm","v":4.8e6},{"w":390,"s":"545 nm","v":5.8e6},{"w":400,"s":"545 nm","v":7e6},{"w":410,"s":"545 nm","v":8e6},{"w":420,"s":"545 nm","v":8.8e6},{"w":430,"s":"545 nm","v":9.3e6},{"w":440,"s":"545 nm","v":9.2e6},{"w":450,"s":"545 nm","v":8.6e6},{"w":460,"s":"545 nm","v":7.5e6},{"w":470,"s":"545 nm","v":6e6},{"w":480,"s":"545 nm","v":4.5e6},{"w":490,"s":"545 nm","v":3e6},{"w":500,"s":"545 nm","v":2.2e6},{"w":520,"s":"545 nm","v":1.5e6},{"w":540,"s":"545 nm","v":1.3e6},{"w":560,"s":"545 nm","v":0.6e6},{"w":580,"s":"545 nm","v":0.05e6},{"w":600,"s":"545 nm","v":0}
      ]},
      "mark": {"type": "line", "strokeWidth": 0.9, "clip": true, "point": {"filled": true, "size": 4, "shape": "square"}},
      "encoding": {
        "color": {"field": "s", "type": "nominal", "scale": {"domain": ["400 nm", "440 nm", "480 nm", "500 nm", "545 nm"], "range": ["#b050e0", "#2a2a9a", "#3a78e0", "#40a8d8", "#40a030"]}, "legend": {"title": "Emission Wavelength", "orient": "top-right", "offset": 1, "titleFontSize": 5.5, "labelFontSize": 5, "symbolSize": 49, "rowPadding": 0.4, "titlePadding": 1, "padding": 1, "labelOffset": 2}}
      }
    },
    {
      "data": {"values": [{"w": 590, "v": 2.2e6, "t": "CDN"}]},
      "mark": {"type": "text", "fontSize": 6.5, "align": "right", "color": "#222222"},
      "encoding": {"text": {"field": "t"}}
    }
  ]
},
{
  "width": 140, "height": 113,
  "title": {"text": "(e)", "dy": 8},
  "encoding": {
    "y": {"field": "v", "type": "quantitative", "scale": {"domain": [-71000, 3434000], "nice": false}, "axis": {"orient": "left", "values": [0, 500000, 1000000, 1500000, 2000000, 2500000, 3000000], "labelOverlap": false, "labelExpr": "datum.value == 0 ? '0.0' : format(datum.value / pow(10, floor(log(datum.value) / LN10 + 0.000001)), '.1f') + '×10' + ['⁰','¹','²','³','⁴','⁵','⁶','⁷','⁸','⁹'][floor(log(datum.value) / LN10 + 0.000001)]", "title": "PL Intensity (arb. units)"}}
  },
  "layer": [
    {
      "data": {"values": [
{"e":2.05,"s":"Fit Peak 1","v":0},{"e":2.30,"s":"Fit Peak 1","v":0},{"e":2.50,"s":"Fit Peak 1","v":0},{"e":2.60,"s":"Fit Peak 1","v":0},{"e":2.65,"s":"Fit Peak 1","v":190},{"e":2.70,"s":"Fit Peak 1","v":1300},{"e":2.75,"s":"Fit Peak 1","v":7000},{"e":2.80,"s":"Fit Peak 1","v":28900},{"e":2.85,"s":"Fit Peak 1","v":93700},{"e":2.90,"s":"Fit Peak 1","v":236300},{"e":2.95,"s":"Fit Peak 1","v":464100},{"e":3.00,"s":"Fit Peak 1","v":710000},{"e":3.05,"s":"Fit Peak 1","v":845800},{"e":3.10,"s":"Fit Peak 1","v":784600},{"e":3.15,"s":"Fit Peak 1","v":567000},{"e":3.20,"s":"Fit Peak 1","v":319000},{"e":3.25,"s":"Fit Peak 1","v":139800},{"e":3.30,"s":"Fit Peak 1","v":47700},{"e":3.35,"s":"Fit Peak 1","v":12700},{"e":3.40,"s":"Fit Peak 1","v":2600},{"e":3.45,"s":"Fit Peak 1","v":425},{"e":3.50,"s":"Fit Peak 1","v":55},{"e":3.60,"s":"Fit Peak 1","v":0},{"e":3.70,"s":"Fit Peak 1","v":0},
{"e":2.05,"s":"Fit Peak 2","v":0},{"e":2.20,"s":"Fit Peak 2","v":320},{"e":2.25,"s":"Fit Peak 2","v":1250},{"e":2.30,"s":"Fit Peak 2","v":4300},{"e":2.35,"s":"Fit Peak 2","v":13200},{"e":2.40,"s":"Fit Peak 2","v":36100},{"e":2.45,"s":"Fit Peak 2","v":88900},{"e":2.50,"s":"Fit Peak 2","v":195600},{"e":2.55,"s":"Fit Peak 2","v":385400},{"e":2.60,"s":"Fit Peak 2","v":678900},{"e":2.65,"s":"Fit Peak 2","v":1070900},{"e":2.70,"s":"Fit Peak 2","v":1511200},{"e":2.75,"s":"Fit Peak 2","v":1908300},{"e":2.80,"s":"Fit Peak 2","v":2156400},{"e":2.85,"s":"Fit Peak 2","v":2180600},{"e":2.90,"s":"Fit Peak 2","v":1973000},{"e":2.95,"s":"Fit Peak 2","v":1597400},{"e":3.00,"s":"Fit Peak 2","v":1157600},{"e":3.05,"s":"Fit Peak 2","v":750400},{"e":3.10,"s":"Fit Peak 2","v":435400},{"e":3.15,"s":"Fit Peak 2","v":225900},{"e":3.20,"s":"Fit Peak 2","v":104900},{"e":3.25,"s":"Fit Peak 2","v":43600},{"e":3.30,"s":"Fit Peak 2","v":16200},{"e":3.35,"s":"Fit Peak 2","v":5400},{"e":3.40,"s":"Fit Peak 2","v":1600},{"e":3.45,"s":"Fit Peak 2","v":420},{"e":3.50,"s":"Fit Peak 2","v":100},{"e":3.60,"s":"Fit Peak 2","v":0},{"e":3.70,"s":"Fit Peak 2","v":0},
{"e":2.05,"s":"Fit Peak 3","v":291300},{"e":2.10,"s":"Fit Peak 3","v":388800},{"e":2.15,"s":"Fit Peak 3","v":503700},{"e":2.20,"s":"Fit Peak 3","v":633500},{"e":2.25,"s":"Fit Peak 3","v":773200},{"e":2.30,"s":"Fit Peak 3","v":916100},{"e":2.35,"s":"Fit Peak 3","v":1053700},{"e":2.40,"s":"Fit Peak 3","v":1176400},{"e":2.45,"s":"Fit Peak 3","v":1274800},{"e":2.50,"s":"Fit Peak 3","v":1341000},{"e":2.55,"s":"Fit Peak 3","v":1369200},{"e":2.60,"s":"Fit Peak 3","v":1357000},{"e":2.65,"s":"Fit Peak 3","v":1305500},{"e":2.70,"s":"Fit Peak 3","v":1219200},{"e":2.75,"s":"Fit Peak 3","v":1105000},{"e":2.80,"s":"Fit Peak 3","v":972300},{"e":2.85,"s":"Fit Peak 3","v":830500},{"e":2.90,"s":"Fit Peak 3","v":688400},{"e":2.95,"s":"Fit Peak 3","v":554000},{"e":3.00,"s":"Fit Peak 3","v":432800},{"e":3.05,"s":"Fit Peak 3","v":328100},{"e":3.10,"s":"Fit Peak 3","v":241500},{"e":3.15,"s":"Fit Peak 3","v":172500},{"e":3.20,"s":"Fit Peak 3","v":119600},{"e":3.25,"s":"Fit Peak 3","v":80500},{"e":3.30,"s":"Fit Peak 3","v":52600},{"e":3.35,"s":"Fit Peak 3","v":33400},{"e":3.40,"s":"Fit Peak 3","v":20600},{"e":3.45,"s":"Fit Peak 3","v":12300},{"e":3.50,"s":"Fit Peak 3","v":7100},{"e":3.55,"s":"Fit Peak 3","v":4000},{"e":3.60,"s":"Fit Peak 3","v":2200},{"e":3.65,"s":"Fit Peak 3","v":1150},{"e":3.70,"s":"Fit Peak 3","v":600},
{"e":2.05,"s":"Cumulative Fit Peak","v":291300},{"e":2.10,"s":"Cumulative Fit Peak","v":388800},{"e":2.15,"s":"Cumulative Fit Peak","v":503700},{"e":2.20,"s":"Cumulative Fit Peak","v":633800},{"e":2.25,"s":"Cumulative Fit Peak","v":774500},{"e":2.30,"s":"Cumulative Fit Peak","v":920400},{"e":2.35,"s":"Cumulative Fit Peak","v":1066900},{"e":2.40,"s":"Cumulative Fit Peak","v":1212500},{"e":2.45,"s":"Cumulative Fit Peak","v":1363700},{"e":2.50,"s":"Cumulative Fit Peak","v":1536600},{"e":2.55,"s":"Cumulative Fit Peak","v":1754600},{"e":2.60,"s":"Cumulative Fit Peak","v":2035900},{"e":2.65,"s":"Cumulative Fit Peak","v":2376600},{"e":2.70,"s":"Cumulative Fit Peak","v":2731700},{"e":2.75,"s":"Cumulative Fit Peak","v":3020300},{"e":2.80,"s":"Cumulative Fit Peak","v":3157600},{"e":2.85,"s":"Cumulative Fit Peak","v":3104800},{"e":2.90,"s":"Cumulative Fit Peak","v":2897700},{"e":2.95,"s":"Cumulative Fit Peak","v":2615500},{"e":3.00,"s":"Cumulative Fit Peak","v":2300400},{"e":3.05,"s":"Cumulative Fit Peak","v":1924300},{"e":3.10,"s":"Cumulative Fit Peak","v":1461500},{"e":3.15,"s":"Cumulative Fit Peak","v":965400},{"e":3.20,"s":"Cumulative Fit Peak","v":543500},{"e":3.25,"s":"Cumulative Fit Peak","v":263900},{"e":3.30,"s":"Cumulative Fit Peak","v":116500},{"e":3.35,"s":"Cumulative Fit Peak","v":51500},{"e":3.40,"s":"Cumulative Fit Peak","v":24800},{"e":3.45,"s":"Cumulative Fit Peak","v":13150},{"e":3.50,"s":"Cumulative Fit Peak","v":7255},{"e":3.55,"s":"Cumulative Fit Peak","v":4000},{"e":3.60,"s":"Cumulative Fit Peak","v":2200},{"e":3.65,"s":"Cumulative Fit Peak","v":1150},{"e":3.70,"s":"Cumulative Fit Peak","v":600}
      ]},
      "mark": {"type": "line", "strokeWidth": 1, "clip": true, "interpolate": "monotone"},
      "encoding": {
        "x": {"field": "e", "type": "quantitative", "scale": {"domain": [2.07, 3.67], "nice": false, "zero": false}, "axis": {"orient": "bottom", "values": [2.2, 2.4, 2.6, 2.8, 3.0, 3.2, 3.4, 3.6], "labelOverlap": false, "format": ".1f", "title": "Energy (eV)"}},
        "color": {"field": "s", "type": "nominal", "scale": {"domain": ["Exp data", "Fit Peak 1", "Fit Peak 2", "Fit Peak 3", "Cumulative Fit Peak"], "range": ["#e090c8", "#b040d0", "#4a4ad8", "#40a0d0", "#a0602a"]}, "legend": {"title": "λexc = 380 nm", "orient": "top-right", "offset": 2, "titleFontSize": 4.5, "labelFontSize": 4, "symbolSize": 30, "rowPadding": 0.3, "titlePadding": 1.5, "padding": 1, "labelOffset": 2}}
      }
    },
    {
      "data": {"values": [
{"e":2.686,"v":1675000,"t":"2.83 eV","s":"Fit Peak 2"},{"e":2.686,"v":1440000,"t":"(438 nm)","s":"Fit Peak 2"},{"e":2.618,"v":571000,"t":"2.56 eV","s":"Fit Peak 3"},{"e":2.618,"v":363000,"t":"(484 nm)","s":"Fit Peak 3"},{"e":3.478,"v":590000,"t":"3.05 eV","s":"Fit Peak 1"},{"e":3.478,"v":363000,"t":"(406 nm)","s":"Fit Peak 1"}
      ]},
      "mark": {"type": "text", "fontSize": 6},
      "encoding": {
        "x": {"field": "e", "type": "quantitative", "scale": {"domain": [2.07, 3.67], "nice": false, "zero": false}, "axis": {"orient": "top", "values": [2.2, 2.4, 2.6, 2.8, 3.0, 3.2, 3.4, 3.6], "labelOverlap": false, "labelExpr": "format(1240 / datum.value, '.0f')", "title": "Wavelength (nm)", "titlePadding": 0.5}},
        "text": {"field": "t"},
        "color": {"field": "s", "type": "nominal", "legend": null}
      }
    },
    {
      "data": {"values": [{"e": 2.09, "v": 3210000, "t": "CDN"}]},
      "mark": {"type": "text", "fontSize": 6.5, "align": "left", "color": "#222222"},
      "encoding": {
        "x": {"field": "e", "type": "quantitative", "scale": {"domain": [2.07, 3.67], "nice": false, "zero": false}, "axis": null},
        "text": {"field": "t"}
      }
    }
  ],
  "resolve": {"axis": {"x": "independent"}}
},
{
  "width": 142, "height": 113,
  "title": {"text": "(f)", "dy": 8},
  "encoding": {
    "y": {"field": "v", "type": "quantitative", "scale": {"domain": [-2.8e6, 2.377e8], "nice": false}, "axis": {"orient": "left", "values": [0, 5e7, 1e8, 1.5e8, 2e8], "labelOverlap": false, "labelExpr": "datum.value == 0 ? '0.0' : format(datum.value / pow(10, floor(log(datum.value) / LN10 + 0.000001)), '.1f') + '×10' + ['⁰','¹','²','³','⁴','⁵','⁶','⁷','⁸','⁹'][floor(log(datum.value) / LN10 + 0.000001)]", "title": "PL Intensity (arb. units)"}}
  },
  "layer": [
    {
      "data": {"values": [
{"e":2.00,"s":"Fit Peak 1","v":17000},{"e":2.05,"s":"Fit Peak 1","v":87000},{"e":2.10,"s":"Fit Peak 1","v":366000},{"e":2.15,"s":"Fit Peak 1","v":1.30e6},{"e":2.20,"s":"Fit Peak 1","v":3.88e6},{"e":2.25,"s":"Fit Peak 1","v":9.74e6},{"e":2.30,"s":"Fit Peak 1","v":2.056e7},{"e":2.35,"s":"Fit Peak 1","v":3.645e7},{"e":2.40,"s":"Fit Peak 1","v":5.435e7},{"e":2.45,"s":"Fit Peak 1","v":6.81e7},{"e":2.50,"s":"Fit Peak 1","v":7.175e7},{"e":2.55,"s":"Fit Peak 1","v":6.354e7},{"e":2.60,"s":"Fit Peak 1","v":4.73e7},{"e":2.65,"s":"Fit Peak 1","v":2.96e7},{"e":2.70,"s":"Fit Peak 1","v":1.557e7},{"e":2.75,"s":"Fit Peak 1","v":6.88e6},{"e":2.80,"s":"Fit Peak 1","v":2.56e6},{"e":2.85,"s":"Fit Peak 1","v":8.0e5},{"e":2.90,"s":"Fit Peak 1","v":2.1e5},{"e":2.95,"s":"Fit Peak 1","v":46000},{"e":3.00,"s":"Fit Peak 1","v":8600},
{"e":2.00,"s":"Fit Peak 2","v":8.90e7},{"e":2.05,"s":"Fit Peak 2","v":1.158e8},{"e":2.10,"s":"Fit Peak 2","v":1.431e8},{"e":2.15,"s":"Fit Peak 2","v":1.680e8},{"e":2.20,"s":"Fit Peak 2","v":1.872e8},{"e":2.25,"s":"Fit Peak 2","v":1.981e8},{"e":2.30,"s":"Fit Peak 2","v":1.992e8},{"e":2.35,"s":"Fit Peak 2","v":1.901e8},{"e":2.40,"s":"Fit Peak 2","v":1.724e8},{"e":2.45,"s":"Fit Peak 2","v":1.484e8},{"e":2.50,"s":"Fit Peak 2","v":1.213e8},{"e":2.55,"s":"Fit Peak 2","v":9.42e7},{"e":2.60,"s":"Fit Peak 2","v":6.94e7},{"e":2.65,"s":"Fit Peak 2","v":4.86e7},{"e":2.70,"s":"Fit Peak 2","v":3.23e7},{"e":2.75,"s":"Fit Peak 2","v":2.04e7},{"e":2.80,"s":"Fit Peak 2","v":1.22e7},{"e":2.85,"s":"Fit Peak 2","v":6.98e6},{"e":2.90,"s":"Fit Peak 2","v":3.77e6},{"e":2.95,"s":"Fit Peak 2","v":1.94e6},{"e":3.00,"s":"Fit Peak 2","v":9.5e5},
{"e":2.00,"s":"Cumulative Fit Peak","v":8.902e7},{"e":2.05,"s":"Cumulative Fit Peak","v":1.1589e8},{"e":2.10,"s":"Cumulative Fit Peak","v":1.4347e8},{"e":2.15,"s":"Cumulative Fit Peak","v":1.693e8},{"e":2.20,"s":"Cumulative Fit Peak","v":1.9108e8},{"e":2.25,"s":"Cumulative Fit Peak","v":2.0784e8},{"e":2.30,"s":"Cumulative Fit Peak","v":2.1976e8},{"e":2.35,"s":"Cumulative Fit Peak","v":2.2655e8},{"e":2.40,"s":"Cumulative Fit Peak","v":2.2675e8},{"e":2.45,"s":"Cumulative Fit Peak","v":2.165e8},{"e":2.50,"s":"Cumulative Fit Peak","v":1.9305e8},{"e":2.55,"s":"Cumulative Fit Peak","v":1.5774e8},{"e":2.60,"s":"Cumulative Fit Peak","v":1.167e8},{"e":2.65,"s":"Cumulative Fit Peak","v":7.82e7},{"e":2.70,"s":"Cumulative Fit Peak","v":4.787e7},{"e":2.75,"s":"Cumulative Fit Peak","v":2.728e7},{"e":2.80,"s":"Cumulative Fit Peak","v":1.476e7},{"e":2.85,"s":"Cumulative Fit Peak","v":7.78e6},{"e":2.90,"s":"Cumulative Fit Peak","v":3.98e6},{"e":2.95,"s":"Cumulative Fit Peak","v":1.986e6},{"e":3.00,"s":"Cumulative Fit Peak","v":9.59e5}
      ]},
      "mark": {"type": "line", "strokeWidth": 1, "clip": true, "interpolate": "monotone"},
      "encoding": {
        "x": {"field": "e", "type": "quantitative", "scale": {"domain": [2.04, 3.0], "nice": false, "zero": false}, "axis": {"orient": "bottom", "values": [2.2, 2.4, 2.6, 2.8, 3.0], "labelOverlap": false, "format": ".1f", "title": "Energy (eV)"}},
        "color": {"field": "s", "type": "nominal", "scale": {"domain": ["Exp data", "Fit Peak 1", "Fit Peak 2", "Cumulative Fit Peak"], "range": ["#70c8c8", "#40a8b0", "#40a030", "#c05a3a"]}, "legend": {"title": "λexc = 440 nm", "orient": "top-right", "offset": 2, "titleFontSize": 4.5, "labelFontSize": 4, "symbolSize": 30, "rowPadding": 0.3, "titlePadding": 1.5, "padding": 1, "labelOffset": 2}}
      }
    },
    {
      "data": {"values": [
{"e":2.27,"v":1.70e8,"t":"2.28 eV","s":"Fit Peak 2"},{"e":2.27,"v":1.56e8,"t":"(544 nm)","s":"Fit Peak 2"},{"e":2.52,"v":4.6e7,"t":"2.49 eV","s":"Fit Peak 1"},{"e":2.52,"v":3.2e7,"t":"(498 nm)","s":"Fit Peak 1"}
      ]},
      "mark": {"type": "text", "fontSize": 6},
      "encoding": {
        "x": {"field": "e", "type": "quantitative", "scale": {"domain": [2.04, 3.0], "nice": false, "zero": false}, "axis": {"orient": "top", "values": [2.2, 2.4, 2.6, 2.8, 3.0], "labelOverlap": false, "labelExpr": "format(1240 / datum.value, '.0f')", "title": "Wavelength (nm)", "titlePadding": 0.5}},
        "text": {"field": "t"},
        "color": {"field": "s", "type": "nominal", "legend": null}
      }
    },
    {
      "data": {"values": [{"e": 2.075, "v": 2.22e8, "t": "CDN"}]},
      "mark": {"type": "text", "fontSize": 6.5, "align": "left", "color": "#222222"},
      "encoding": {
        "x": {"field": "e", "type": "quantitative", "scale": {"domain": [2.04, 3.0], "nice": false, "zero": false}, "axis": null},
        "text": {"field": "t"}
      }
    }
  ],
  "resolve": {"axis": {"x": "independent"}}
}
]
}
